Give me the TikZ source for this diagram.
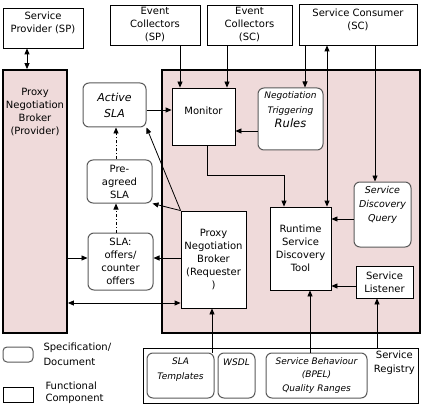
\documentclass[tikz,border=0pt]{standalone}
\usepackage{fontspec}
\setmainfont{DejaVu Sans}
\usetikzlibrary{arrows.meta}
\definecolor{brokerpink}{RGB}{239,218,218}
\definecolor{docgray}{RGB}{90,90,90}

\begin{document}
\begin{tikzpicture}[x=1pt,y=-1pt,
                font=\fontsize{10}{13}\selectfont,
                func/.style={draw,line width=0.8pt,fill=white,inner sep=1pt,align=center},
                doc/.style={draw=docgray,line width=1pt,rounded corners=6pt,fill=white,inner sep=1pt,align=center},
                area/.style={draw,line width=1.8pt,fill=brokerpink},
                flow/.style={line width=0.8pt,-{Triangle[length=6pt,width=5pt]}},
                bothway/.style={line width=0.8pt,{Triangle[length=6pt,width=5pt]}-{Triangle[length=6pt,width=5pt]}},
                derive/.style={flow,dash pattern=on 3pt off 2pt on 1pt off 2pt}]
                \useasboundingbox (0,0) rectangle (425,406);
                \node[area,minimum width=64pt,minimum height=263pt] (prov) at (35,201.5) {};
                \node[area,minimum width=258pt,minimum height=263pt] (cont) at (291,201.5) {};
                \node[anchor=north,align=center] (provtxt) at ([yshift=-16pt]prov.north) {Proxy\\Negotiation\\Broker\\(Provider)};
                \node[func,minimum width=80pt,minimum height=40pt] (sp) at (43,28) {};
                \node[anchor=north,align=center] (sptxt) at ([yshift=-1pt]sp.north) {Service\\Provider (SP)};
                \node[func,minimum width=90pt,minimum height=40pt] (ecsp) at (155,25) {Event\\Collectors\\(SP)};
                \node[func,minimum width=85pt,minimum height=40pt] (ecsc) at (249.5,25) {Event\\Collectors\\(SC)};
                \node[func,minimum width=118pt,minimum height=41pt] (sc) at (358,24.5) {};
                \node[anchor=north,align=center] (sctxt) at ([yshift=-2pt]sc.north) {Service Consumer\\(SC)};
                \node[func,minimum width=63pt,minimum height=57pt] (mon) at (203.5,116.5) {};
                \node (montxt) at ([yshift=5.5pt]mon.center) {Monitor};
                \node[doc,minimum width=65pt,minimum height=62pt] (rules) at (290.5,119) {};
                \node[anchor=north,align=center,font=\fontsize{9}{14.5}\selectfont\itshape] (rulestxt) at ([yshift=-1pt]rules.north) {{\fontsize{9}{14.5}\selectfont Negotiation}\\{\fontsize{9}{14.5}\selectfont Triggering}\\{\fontsize{11.5}{14.5}\selectfont Rules}};
                \node[doc,minimum width=57pt,minimum height=65pt] (sdq) at (382.5,214.5) {};
                \node[anchor=north,align=center,font=\fontsize{9.5}{14}\selectfont\itshape] (sdqtxt) at ([yshift=-1pt]sdq.north) {Service\\Discovery\\Query};
                \node[func,minimum width=61pt,minimum height=83pt] (rsdt) at (300.5,248.5) {Runtime\\Service\\Discovery\\Tool};
                \node[func,minimum width=57pt,minimum height=32pt] (lis) at (384.5,282) {Service\\Listener};
                \node[func,minimum width=65pt,minimum height=97pt] (req) at (213.5,259.5) {Proxy\\Negotiation\\Broker\\(Requester\\)};
                \node[doc,minimum width=63pt,minimum height=44pt,font=\fontsize{11}{16}\selectfont\itshape] (asla) at (114.5,105) {Active\\SLA};
                \node[doc,minimum width=65pt,minimum height=43pt] (pre) at (119.5,181.5) {Pre-\\agreed\\SLA};
                \node[doc,minimum width=65pt,minimum height=57pt] (off) at (120.5,261.5) {SLA:\\offers/\\counter\\offers};
                \node[draw,line width=0.8pt,minimum width=275pt,minimum height=55pt] (reg) at (280.5,375.5) {};
                \node[anchor=north east,align=center,font=\fontsize{10}{14}\selectfont] (regtxt) at (reg.north east) {Service\\Registry};
                \node[doc,minimum width=67pt,minimum height=45pt] (tmpl) at (180.5,375.5) {};
                \node[anchor=north,align=center,font=\fontsize{9}{15}\selectfont\itshape] (tmpltxt) at ([yshift=-2pt]tmpl.north) {SLA\\Templates};
                \node[doc,minimum width=37pt,minimum height=45pt] (wsdl) at (236.5,375.5) {};
                \node[anchor=north,font=\fontsize{9}{13}\selectfont\itshape] (wsdltxt) at ([yshift=-3pt]wsdl.north) {WSDL};
                \node[doc,minimum width=101pt,minimum height=45pt,font=\fontsize{9}{13.5}\selectfont\itshape] (beh) at (316.5,375.5) {Service Behaviour\\(BPEL)\\Quality Ranges};
                \node[doc,rounded corners=4pt,minimum width=30pt,minimum height=15pt] (docleg) at (18,354.5) {};
                \node[anchor=west,align=left,font=\fontsize{10}{15}\selectfont] (doctxt) at (40,354.5) {Specification/\\Document};
                \node[func,minimum width=30pt,minimum height=15pt] (funcleg) at (18,394.5) {};
                \node[anchor=west,align=left,font=\fontsize{10}{12}\selectfont] (functxt) at (42,393) {Functional\\Component};
                \draw[bothway] (sp.south -| 27,0) -- (prov.north -| 27,0);
                \draw[flow] (ecsp.south -| 180,0) -- (mon.north -| 180,0);
                \draw[flow] (ecsc.south -| 227,0) -- (mon.north -| 227,0);
                \draw[flow] (sc.south -| 305,0) -- (rules.north -| 305,0);
                \draw[bothway] (sc.south -| 327,0) -- (rsdt.north -| 327,0);
                \draw[flow] (sc.south -| 375,0) -- (sdq.north -| 375,0);
                \draw[flow] (rules.west |- 0,131) -- (mon.east |- 0,131);
                \draw[flow] (mon.south -| 207,0) |- (284,175) -- (rsdt.north -| 284,0);
                \draw[flow] (sdq.west |- 0,219) -- (rsdt.east |- 0,219);
                \draw[flow] (lis.west |- 0,286) -- (rsdt.east |- 0,286);
                \draw[flow] (asla.east |- 0,110) -- (mon.west |- 0,110);
                \draw[flow] (req.north west) -- (asla.south east);
                \draw[flow] (req.north west) -- (pre.south east);
                \draw[derive] (pre.north -| 116,0) -- (asla.south -| 116,0);
                \draw[derive] (off.north -| 116,0) -- (pre.south -| 116,0);
                \draw[flow] (req.west |- 0,258) -- (off.east |- 0,258);
                \draw[flow] (prov.east |- 0,258) -- (off.west |- 0,258);
                \draw[bothway] (prov.east |- 0,303) -- (req.west |- 0,303);
                \draw[flow] (tmpl.north -| 212,0) -- (req.south -| 212,0);
                \draw[flow] (beh.north -| 310,0) -- (rsdt.south -| 310,0);
                \draw[flow] (reg.north -| 377,0) -- (lis.south -| 377,0);
            \end{tikzpicture}
\end{document}
